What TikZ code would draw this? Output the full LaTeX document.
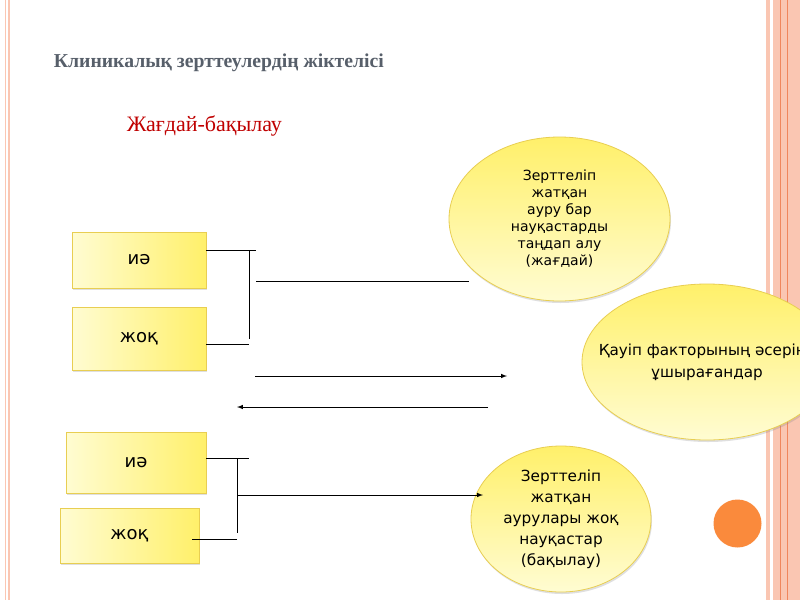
\documentclass[tikz,border=0pt]{standalone}
\usepackage{fontspec}
\setmainfont{Liberation Serif}
\newfontfamily\boxfont{DejaVu Sans}
\usetikzlibrary{shapes.geometric,shadows,arrows}

\definecolor{stripe}{HTML}{FAC6B2}
\definecolor{stripeline}{HTML}{F0865C}
\definecolor{dotorange}{HTML}{FA8A3C}
\definecolor{titlegray}{HTML}{575F6A}
\definecolor{redlabel}{HTML}{C00000}
\definecolor{yellowrim}{HTML}{E8CE52}
\definecolor{yellowdark}{HTML}{FFF06A}
\definecolor{yellowlight}{HTML}{FFFCD2}

\tikzset{
  answer/.style={rectangle, draw=yellowrim, line width=0.8pt,
    left color=yellowlight, right color=yellowdark,
    font=\boxfont\fontsize{18}{22}\selectfont,
    drop shadow={opacity=0.25, shadow xshift=1pt, shadow yshift=-2pt}},
  group/.style={ellipse, draw=yellowrim, line width=0.8pt, inner sep=0pt,
    top color=yellowdark, bottom color=yellowlight, align=center,
    drop shadow={opacity=0.25, shadow xshift=1pt, shadow yshift=-2pt}}
}

\begin{document}
\begin{tikzpicture}[x=1pt,y=-1pt,line width=1pt]
\useasboundingbox[fill=white] (0,0) rectangle (800,600);

% left border
\fill[stripe] (5,0) rectangle (6.3,600);
\fill[stripe] (7.5,0) rectangle (9.7,600);

% right border
\fill[stripe] (766,0) rectangle (769.5,600);
\fill[stripe] (773,0) rectangle (800,600);
\draw[stripeline] (780.5,0) -- (780.5,600);
\draw[stripeline] (787,0) -- (787,600);

\node (title) [anchor=west, text=titlegray, font=\bfseries\fontsize{19.7}{24}\selectfont] at (50,63) {Клиникалық зерттеулердің жіктелісі};
\node (design) [anchor=west, text=redlabel, font=\fontsize{22}{26}\selectfont] at (123,126) {Жағдай-бақылау};

% answer boxes
\node (yes1) [answer, minimum width=134pt, minimum height=56pt] at (139,260) {иә};
\node (no1) [answer, minimum width=134pt, minimum height=63pt] at (139,338.5) {жоқ};
\node (yes2) [answer, minimum width=140pt, minimum height=61pt] at (136,462.5) {иә};
\node (no2) [answer, minimum width=139pt, minimum height=55pt] at (129.5,535.5) {жоқ};

% groups
\node (cases) [group, minimum width=221pt, minimum height=164pt, font=\boxfont\fontsize{14}{17}\selectfont] at (559.5,219) {Зерттеліп\\жатқан\\ауру бар\\науқастарды\\таңдап алу\\(жағдай)};
\node (exposed) [group, inner xsep=-20pt, minimum width=250pt, minimum height=156pt, font=\boxfont\fontsize{15.2}{22}\selectfont] at (707,362) {Қауіп факторының әсеріне\\ұшырағандар};
\node (controls) [group, minimum width=180pt, minimum height=146pt, font=\boxfont\fontsize{15.3}{21}\selectfont] at (561,519) {Зерттеліп\\жатқан\\аурулары жоқ\\науқастар\\(бақылау)};

% first bracket
\coordinate (top1) at (256,250);
\coordinate (low1) at (249,344);
\coordinate (mid1) at (256,281);
\coordinate (end1) at (469,281);
\draw (yes1.east |- top1) -- (top1);
\draw (no1.east |- low1) -- (low1);
\draw (low1 |- top1) -- (249,339);
\draw (mid1) -- (end1);

% arrows in between
\coordinate (fwdA) at (255,376);
\coordinate (fwdB) at (507,376);
\coordinate (backA) at (488,407);
\coordinate (backB) at (237,407);
\draw[-latex] (fwdA) -- (fwdB);
\draw[-latex] (backA) -- (backB);

% second bracket
\coordinate (top2) at (249,458);
\coordinate (low2) at (237,539);
\coordinate (start2) at (192,539);
\coordinate (mid2) at (237,495);
\coordinate (end2) at (483,495);
\draw (yes2.east |- top2) -- (top2);
\draw (start2) -- (low2);
\draw (low2 |- top2) -- (237,533);
\draw[-latex] (mid2) -- (end2);

\fill[dotorange] (737.5,523.5) circle (24);

\end{tikzpicture}
\end{document}
